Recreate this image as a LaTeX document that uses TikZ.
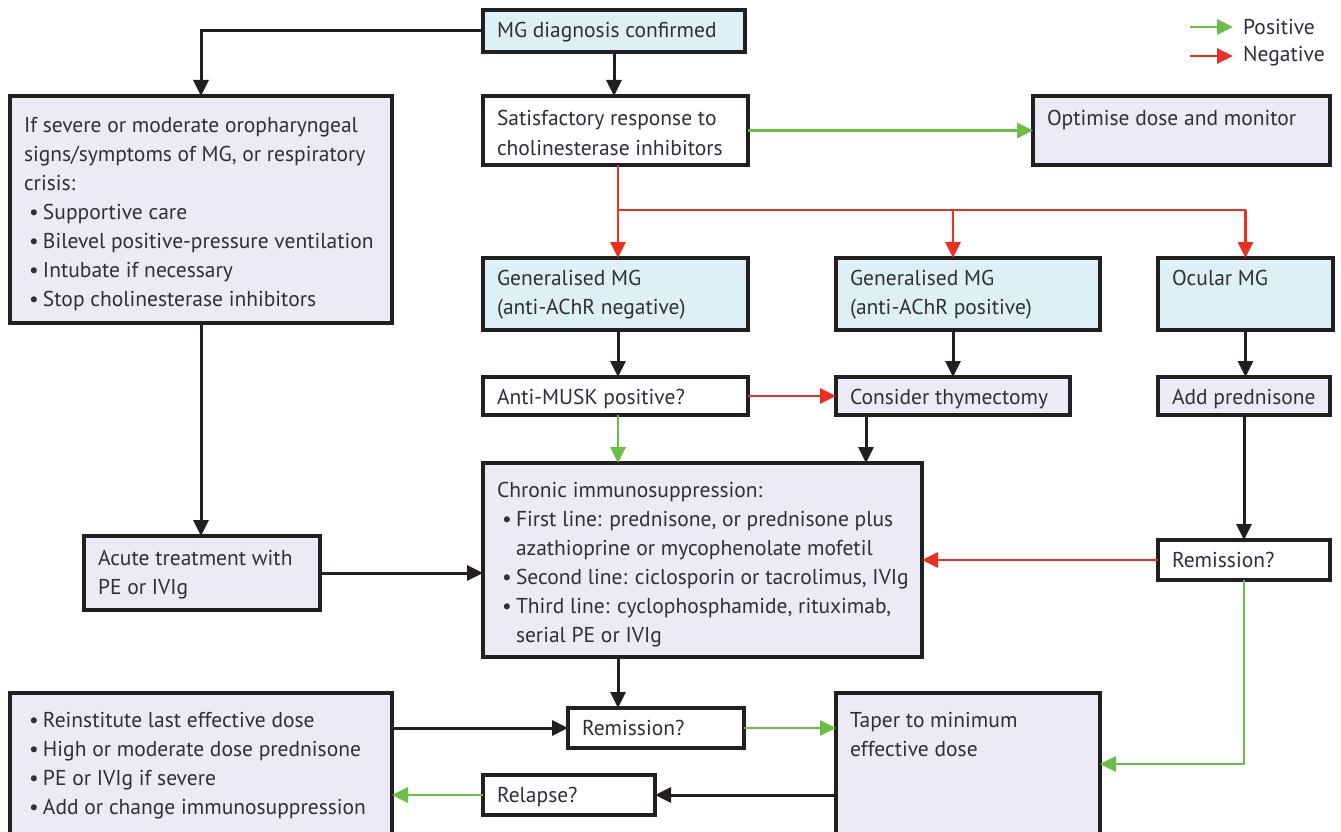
\documentclass[tikz,border=0pt]{standalone}
\usepackage{fontspec}
\setmainfont{PT Sans}
\usetikzlibrary{arrows.meta,calc}
\definecolor{bluefill}{HTML}{DDF0F6}
\definecolor{lavfill}{HTML}{ECEAF5}
\definecolor{posgreen}{HTML}{6BBE45}
\definecolor{negred}{HTML}{E8321F}
\definecolor{txtcol}{HTML}{2F2E3B}
\definecolor{edgecol}{HTML}{231F20}
\newcommand\bt[4]{\begin{minipage}[c][#2][t]{#1}\fontsize{21.5}{29}\selectfont\leftskip=14pt\rightskip=0pt plus 1fil\parindent=0pt\everypar{\rule{0pt}{#3}\everypar{}}#4\end{minipage}}
\newcommand\bitem[1]{\par\hangindent=19pt\hangafter=1\makebox[19pt][l]{\hspace{5pt}\textbullet}#1}
\begin{document}
\begin{tikzpicture}[x=1pt,y=-1pt,
  box/.style={draw=edgecol, line width=3.2pt, inner sep=0pt, outer sep=0pt, anchor=north west, text=txtcol},
  bluebox/.style={box, fill=bluefill},
  lavbox/.style={box, fill=lavfill},
  whitebox/.style={box, fill=white},
  tip/.style={-{Triangle[length=16pt,width=15pt]}},
  blk/.style={tip, draw=edgecol, line width=3pt},
  grn/.style={tip, draw=posgreen, line width=2.7pt},
  rd/.style={tip, draw=negred, line width=2.7pt},
  lgd/.style={inner sep=0pt, anchor=west, text=txtcol, font=\fontsize{21.5}{25}\selectfont}]
\useasboundingbox[fill=white] (0,0) rectangle (1341,832);

% boxes
\node[bluebox] (diag) at (483,10) {\bt{262pt}{42pt}{28pt}{MG diagnosis confirmed}};
\node[whitebox] (satisf) at (483,96) {\bt{265pt}{69pt}{30pt}{Satisfactory response to\\cholinesterase inhibitors}};
\node[lavbox] (optim) at (1033,96) {\bt{297pt}{69pt}{30pt}{Optimise dose and monitor}};
\node[lavbox] (left) at (10,96) {\bt{382pt}{227pt}{36pt}{If severe or moderate oropharyngeal\\signs/symptoms of MG, or respiratory\\crisis:\bitem{Supportive care}\bitem{Bilevel positive-pressure ventilation}\bitem{Intubate if necessary}\bitem{Stop cholinesterase inhibitors}}};
\node[bluebox] (gneg) at (483,258) {\bt{265pt}{72pt}{27pt}{Generalised MG\\(anti-AChR negative)}};
\node[bluebox] (gpos) at (836,258) {\bt{264pt}{72pt}{27pt}{Generalised MG\\(anti-AChR positive)}};
\node[bluebox] (ocul) at (1158,258) {\bt{175pt}{72pt}{27pt}{Ocular MG}};
\node[whitebox] (musk) at (483,377) {\bt{265pt}{38pt}{27pt}{Anti-MUSK positive?}};
\node[lavbox] (thym) at (836,377) {\bt{234pt}{38pt}{27pt}{Consider thymectomy}};
\node[lavbox] (addp) at (1158,377) {\bt{172pt}{38pt}{27pt}{Add prednisone}};
\node[lavbox] (chron) at (483,463) {\bt{439pt}{194pt}{34pt}{Chronic immunosuppression:\bitem{First line: prednisone, or prednisone plus\\azathioprine or mycophenolate mofetil}\bitem{Second line: ciclosporin or tacrolimus, IVIg}\bitem{Third line: cyclophosphamide, rituximab,\\serial PE or IVIg}}};
\node[lavbox] (acute) at (84,536) {\bt{236pt}{74pt}{29pt}{Acute treatment with\\PE or IVIg}};
\node[whitebox] (remb) at (1158,540) {\bt{172pt}{40pt}{27pt}{Remission?}};
\node[whitebox] (rema) at (568,708) {\bt{176pt}{40pt}{27pt}{Remission?}};
\node[lavbox] (taper) at (836,693) {\bt{264pt}{142pt}{34pt}{Taper to minimum\\effective dose}};
\node[lavbox] (reinst) at (10,693) {\bt{382pt}{142pt}{34pt}{\bitem{Reinstitute last effective dose}\bitem{High or moderate dose prednisone}\bitem{PE or IVIg if severe}\bitem{Add or change immunosuppression}}};
\node[whitebox] (relap) at (483,775) {\bt{172pt}{40pt}{27pt}{Relapse?}};

% legend
\node[lgd] (lpos) at (1243,27) {Positive};
\node[lgd] (lneg) at (1243,56) {Negative};
\coordinate (lpos0) at (1190,27);
\coordinate (lneg0) at (1190,56);
\draw[grn] (lpos0) -- ([xshift=-10pt]lpos.west);
\draw[rd] (lneg0) -- ([xshift=-10pt]lneg.west);

% connectors
\draw[blk] (diag.west) -| (left.north);
\draw[blk] (diag.south) -- (diag.south |- satisf.north);
\draw[grn] (satisf.east) -- (optim.west);
\coordinate (br) at (618,210);
\draw[rd] (satisf.south -| br) -- (br) -- (gneg.north -| br);
\draw[negred, line width=2.7pt] (br) -- (br -| ocul.north);
\draw[rd] (br -| thym.north) -- (thym.north |- gpos.north);
\draw[rd] (br -| ocul.north) -- (ocul.north);
\draw[blk] (gneg.south -| br) -- (musk.north -| br);
\draw[blk] (gpos.south -| thym.north) -- (thym.north);
\draw[blk] (ocul.south) -- (ocul.south |- addp.north);
\draw[rd] (musk.east) -- (musk.east -| thym.west);
\draw[grn] (musk.south -| br) -- (chron.north -| br);
\draw[blk] ([xshift=30pt]thym.south west) -- ([xshift=30pt]thym.south west |- chron.north);
\draw[blk] (addp.south) -- (addp.south |- remb.north);
\draw[rd] (remb.west) -- (remb.west -| chron.east);
\draw[grn] (remb.south) |- (taper.east);
\draw[blk] (left.south) -- (left.south |- acute.north);
\draw[blk] (acute.east) -- (acute.east -| chron.west);
\draw[blk] (chron.south -| br) -- (rema.north -| br);
\draw[blk] (rema.west -| reinst.east) -- (rema.west);
\draw[grn] (rema.east) -- (rema.east -| taper.west);
\draw[blk] (relap.east -| taper.west) -- (relap.east);
\draw[grn] (relap.west) -- (relap.west -| reinst.east);
\end{tikzpicture}
\end{document}
